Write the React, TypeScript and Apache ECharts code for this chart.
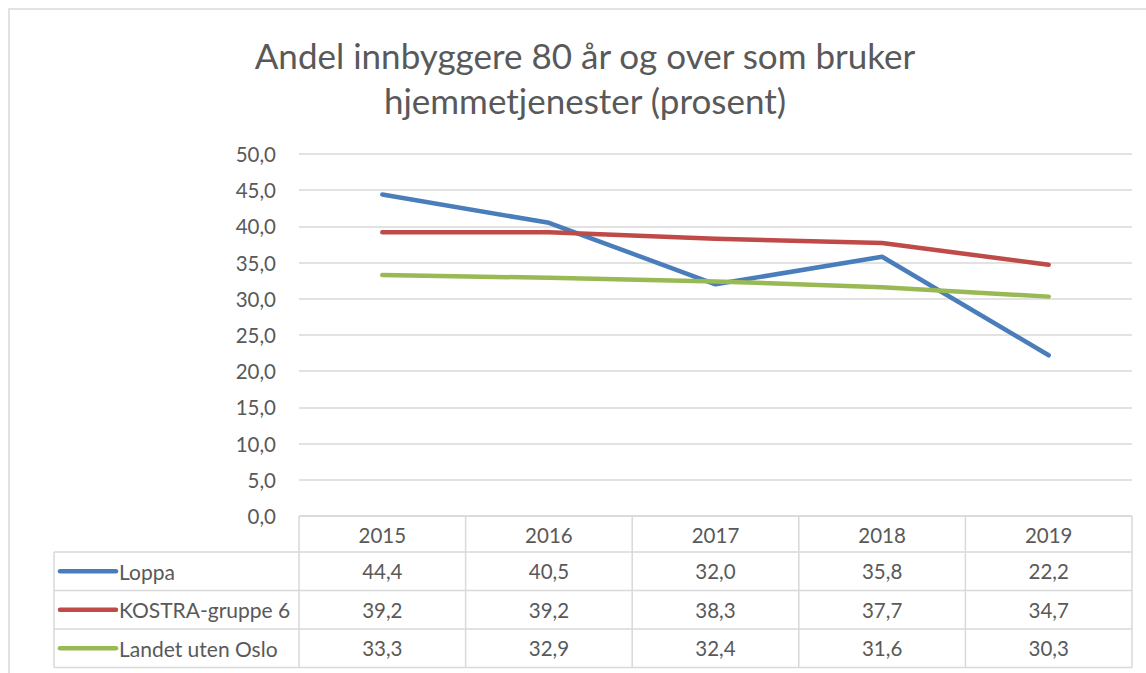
import React, { useEffect, useRef } from "react";
import * as echarts from "echarts";

const titleLines = ["Andel innbyggere 80 år og over som bruker", "hjemmetjenester (prosent)"];
const categories = ["2015", "2016", "2017", "2018", "2019"];
const seriesNames = ["Loppa", "KOSTRA-gruppe 6", "Landet uten Oslo"];
const loppa = [44.4, 40.5, 32.0, 35.8, 22.2];
const kostra = [39.2, 39.2, 38.3, 37.7, 34.7];
const landet = [33.3, 32.9, 32.4, 31.6, 30.3];
const seriesColors = ["#4A7EBB", "#BE4B48", "#98B954"];
const yMin = 0;
const yMax = 50;
const yInterval = 5;

const FONT = "Lato, 'Open Sans', sans-serif";
const TEXT = "#595959";
const GRID = "#D9D9D9";

const fmt = (v: number) => v.toFixed(1).replace(".", ",");

export default function App() {
  const ref = useRef<HTMLDivElement>(null);
  useEffect(() => {
    if (!ref.current) return;
    const chart = echarts.init(ref.current, undefined, { renderer: "svg" });
    const allData = [loppa, kostra, landet];
    chart.setOption({
      animation: false,
      textStyle: { fontFamily: FONT },
      grid: { left: 299, right: 14, top: 154, bottom: 157, containLabel: false },
      xAxis: {
        type: "category",
        data: categories,
        boundaryGap: true,
        axisLine: { show: false },
        axisTick: { show: false },
        axisLabel: { color: TEXT, fontSize: 20.5, fontFamily: FONT, margin: 8 },
        splitLine: { show: false },
      },
      yAxis: {
        type: "value",
        min: yMin,
        max: yMax,
        interval: yInterval,
        axisLine: { show: false },
        axisTick: { show: false },
        axisLabel: { color: TEXT, fontSize: 20.5, fontFamily: FONT, margin: 23, formatter: (v: number) => fmt(v) },
        splitLine: { lineStyle: { color: GRID, width: 1.5 } },
      },
      series: seriesNames.map((name, i) => ({
        name,
        type: "line",
        data: allData[i],
        symbol: "none",
        lineStyle: { color: seriesColors[i], width: 4.5, cap: "round", join: "round" },
        itemStyle: { color: seriesColors[i] },
      })),
    });

    const centers = categories.map((c) => chart.convertToPixel({ xAxisIndex: 0 }, c) as number);
    const band = centers.length > 1 ? centers[1] - centers[0] : 166;
    const y0 = chart.convertToPixel({ yAxisIndex: 0 }, 0) as number;
    const gx0 = centers[0] - band / 2;
    const gx1 = centers[centers.length - 1] + band / 2;
    const tableLeft = 54;
    const headerH = 36;
    const rowH = 38.5;
    const rowTops = seriesNames.map((_, i) => y0 + headerH + i * rowH);
    const tableBottom = y0 + headerH + seriesNames.length * rowH;
    const ls = { stroke: GRID, lineWidth: 1.5 };
    const g: any[] = [];
    g.push({ type: "rect", shape: { x: 9, y: 9, width: 1200, height: 700 }, style: { fill: "none", stroke: GRID, lineWidth: 1.5 }, silent: true });
    titleLines.forEach((t, i) => {
      g.push({
        type: "text",
        x: 585,
        y: 55 + i * 45,
        style: { text: t, fill: TEXT, font: `35px ${FONT}`, align: "center", verticalAlign: "middle" },
      });
    });
    g.push({ type: "line", shape: { x1: gx0, y1: y0, x2: gx1, y2: y0 }, style: ls });
    for (let i = 0; i <= seriesNames.length; i++) {
      const y = y0 + headerH + i * rowH;
      g.push({ type: "line", shape: { x1: tableLeft, y1: y, x2: gx1, y2: y }, style: ls });
    }
    g.push({ type: "line", shape: { x1: tableLeft, y1: y0 + headerH, x2: tableLeft, y2: tableBottom }, style: ls });
    for (let j = 0; j <= categories.length; j++) {
      const x = gx0 + j * band;
      g.push({ type: "line", shape: { x1: x, y1: y0, x2: x, y2: tableBottom }, style: ls });
    }
    seriesNames.forEach((name, i) => {
      const cy = rowTops[i] + rowH / 2;
      g.push({ type: "line", shape: { x1: 60, y1: cy, x2: 116, y2: cy }, style: { stroke: seriesColors[i], lineWidth: 4.5, lineCap: "round" } });
      g.push({ type: "text", x: 119, y: cy, style: { text: name, fill: TEXT, font: `21px ${FONT}`, align: "left", verticalAlign: "middle" } });
      allData[i].forEach((v, j) => {
        g.push({ type: "text", x: centers[j], y: cy, style: { text: fmt(v), fill: TEXT, font: `20.5px ${FONT}`, align: "center", verticalAlign: "middle" } });
      });
    });
    chart.setOption({ graphic: g });
    return () => chart.dispose();
  }, []);
  return <div ref={ref} style={{ position: "fixed", left: 0, top: 0, width: 1146, height: 673, background: "#fff" }} />;
}
